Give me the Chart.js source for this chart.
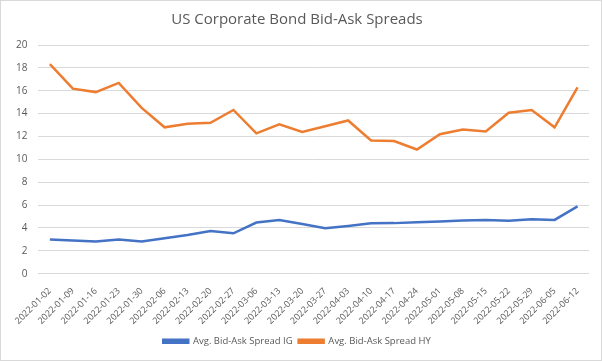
<!DOCTYPE html>
<html>
<head>
<meta charset="utf-8">
<script src="https://cdn.jsdelivr.net/npm/chart.js@4"></script>
<style>
  html, body { margin: 0; padding: 0; background: #fff; }
  #wrap { width: 602px; height: 361px; box-sizing: border-box; border: 1px solid #d9d9d9; position: relative; }
</style>
</head>
<body>
<div id="wrap"><canvas id="grafica-spreads"></canvas></div>
<script>
var semanas = [
    '2022-01-02', '2022-01-09', '2022-01-16', '2022-01-23', '2022-01-30', '2022-02-06',
    '2022-02-13', '2022-02-20', '2022-02-27', '2022-03-06', '2022-03-13', '2022-03-20',
    '2022-03-27', '2022-04-03', '2022-04-10', '2022-04-17', '2022-04-24', '2022-05-01',
    '2022-05-08', '2022-05-15', '2022-05-22', '2022-05-29', '2022-06-05', '2022-06-12'
];

var spreadIG = [
    2.98, 2.9, 2.82, 2.98, 2.82, 3.1,
    3.38, 3.74, 3.53, 4.47, 4.7, 4.35,
    3.97, 4.17, 4.4, 4.42, 4.5, 4.56,
    4.64, 4.7, 4.62, 4.76, 4.7, 5.88
];

var spreadHY = [
    18.32, 16.18, 15.88, 16.68, 14.5, 12.8,
    13.12, 13.2, 14.32, 12.27, 13.07, 12.4,
    12.9, 13.4, 11.65, 11.6, 10.86, 12.2,
    12.6, 12.44, 14.07, 14.32, 12.8, 16.3
];

var yTicks = [0, 2, 4, 6, 8, 10, 12, 14, 16, 18, 20];

var gris = '#595959';
var fuente = "'Open Sans', sans-serif";

var datos = {
    labels: semanas,
    datasets: [{
        label: 'Avg. Bid-Ask Spread IG',
        data: spreadIG,
        borderColor: '#4472C4',
        backgroundColor: '#4472C4',
        borderWidth: 2.5,
        pointRadius: 0,
        fill: false,
        tension: 0
    },
    {
        label: 'Avg. Bid-Ask Spread HY',
        data: spreadHY,
        borderColor: '#ED7D31',
        backgroundColor: '#ED7D31',
        borderWidth: 2.5,
        pointRadius: 0,
        fill: false,
        tension: 0
    }]
};

var opciones = {
    responsive: true,
    maintainAspectRatio: false,
    animation: false,
    layout: { autoPadding: false, padding: { left: 4, right: 12, top: 4, bottom: 4 } },
    plugins: {
        title: {
            display: true,
            text: 'US Corporate Bond Bid-Ask Spreads',
            color: gris,
            font: { family: fuente, size: 15, weight: 'normal' },
            padding: { top: 6, bottom: 16 }
        },
        legend: {
            position: 'bottom',
            labels: {
                color: gris,
                font: { family: fuente, size: 9.5 },
                boxWidth: 25,
                boxHeight: 3,
                padding: 6
            }
        },
        tooltip: { enabled: false }
    },
    scales: {
        x: {
            offset: true,
            grid: { display: false },
            border: { display: false },
            ticks: {
                color: gris,
                font: { family: fuente, size: 9 },
                minRotation: 45,
                maxRotation: 45,
                autoSkip: false,
                padding: 4
            }
        },
        y: {
            min: 0,
            max: 20,
            afterBuildTicks: function (axis) {
                axis.ticks = yTicks.map(function (v) { return { value: v }; });
            },
            grid: { color: '#d9d9d9', drawTicks: false },
            border: { display: false },
            ticks: {
                color: gris,
                font: { family: fuente, size: 10 },
                padding: 11
            }
        }
    }
};

var ctx = document.getElementById('grafica-spreads').getContext('2d');
var grafica = new Chart(ctx, {
    type: 'line',
    data: datos,
    options: opciones
});
</script>
</body>
</html>
